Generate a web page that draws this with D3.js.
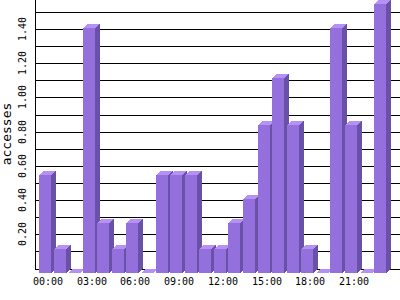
<!DOCTYPE html>
<html>
<head>
<meta charset="utf-8">
<script src="https://cdn.jsdelivr.net/npm/d3@7"></script>
<style>
  body { margin: 0; background: #fff; }
  text { font-family: "DejaVu Sans Mono", monospace; fill: #000; }
</style>
</head>
<body>
<div id="chart"></div>
<script>
// hourly accesses (average per day)
const hours = ["00:00", "01:00", "02:00", "03:00", "04:00", "05:00", "06:00", "07:00",
  "08:00", "09:00", "10:00", "11:00", "12:00", "13:00", "14:00", "15:00",
  "16:00", "17:00", "18:00", "19:00", "20:00", "21:00", "22:00", "23:00"];
const accesses = [0.57, 0.14, 0, 1.43, 0.29, 0.14, 0.29, 0,
  0.57, 0.57, 0.57, 0.14, 0.14, 0.29, 0.43, 0.86,
  1.14, 0.86, 0.14, 0, 1.43, 0.86, 0, 1.57];
const xTickLabels = ["00:00", "03:00", "06:00", "09:00", "12:00", "15:00", "18:00", "21:00"];
const yGridValues = [0.1, 0.2, 0.3, 0.4, 0.5, 0.6, 0.7, 0.8, 0.9, 1.0, 1.1, 1.2, 1.3, 1.4, 1.5];
const yTickLabels = [0.2, 0.4, 0.6, 0.8, 1.0, 1.2, 1.4];

const width = 400, height = 300,
  axisX = 35,
  depthX = 5, depthY = 4,
  colors = { front: "#9370db", side: "#6a51a8", top: "#b691f5" };

const x = d3.scaleBand()
  .domain(hours)
  .range([39, 386.1])
  .paddingInner(0.1764)
  .paddingOuter(0);

const y = d3.scaleLinear()
  .domain([0, d3.max(accesses)])
  .range([268.5, 0]);

const bw = Math.round(x.bandwidth());
const base = Math.round(y(0));

const svg = d3.select("#chart")
  .append("svg")
  .attr("width", width)
  .attr("height", height);

svg.append("rect")
  .attr("width", width)
  .attr("height", height)
  .attr("fill", "#fff");

// grid lines
svg.append("g")
  .selectAll("line")
  .data(yGridValues)
  .join("line")
  .attr("x1", axisX)
  .attr("x2", width)
  .attr("y1", d => Math.round(y(d)) + 0.5)
  .attr("y2", d => Math.round(y(d)) + 0.5)
  .attr("stroke", "#000");

// axes lines
svg.append("line")
  .attr("x1", axisX + 0.5).attr("x2", axisX + 0.5)
  .attr("y1", 0).attr("y2", base + 1)
  .attr("stroke", "#000");
svg.append("line")
  .attr("x1", axisX).attr("x2", width)
  .attr("y1", base + 0.5).attr("y2", base + 0.5)
  .attr("stroke", "#000");

// y labels
svg.append("g")
  .selectAll("text")
  .data(yTickLabels)
  .join("text")
  .attr("transform", d => `translate(26,${Math.round(y(d))}) rotate(-90)`)
  .attr("text-anchor", "middle")
  .attr("font-size", 10)
  .text(d => d.toFixed(2));

svg.append("text")
  .attr("transform", "translate(11,134) rotate(-90)")
  .attr("text-anchor", "middle")
  .attr("font-size", 13)
  .text("accesses");

// x labels
svg.append("g")
  .selectAll("text")
  .data(xTickLabels)
  .join("text")
  .attr("x", d => Math.round(x(d)) + 9)
  .attr("y", 285)
  .attr("text-anchor", "middle")
  .attr("font-size", 10)
  .text(d => d);

// 3d bars
const bar = svg.append("g")
  .attr("shape-rendering", "crispEdges")
  .selectAll("g")
  .data(hours.map((h, i) => ({ h, v: accesses[i] })))
  .join("g")
  .attr("transform", d => `translate(${Math.round(x(d.h))},0)`);

bar.append("rect")
  .attr("x", 0)
  .attr("y", d => Math.round(y(d.v)) + depthY)
  .attr("width", bw)
  .attr("height", d => base - Math.round(y(d.v)))
  .attr("fill", colors.front);

bar.append("polygon")
  .attr("points", d => {
    const t = Math.round(y(d.v));
    return [[bw, t + depthY], [bw + depthX, t], [bw + depthX, base], [bw, base + depthY]].join(" ");
  })
  .attr("fill", colors.side);

bar.append("polygon")
  .attr("points", d => {
    const t = Math.round(y(d.v));
    return [[0, t + depthY], [depthX, t], [bw + depthX, t], [bw, t + depthY]].join(" ");
  })
  .attr("fill", colors.top);
</script>
</body>
</html>
